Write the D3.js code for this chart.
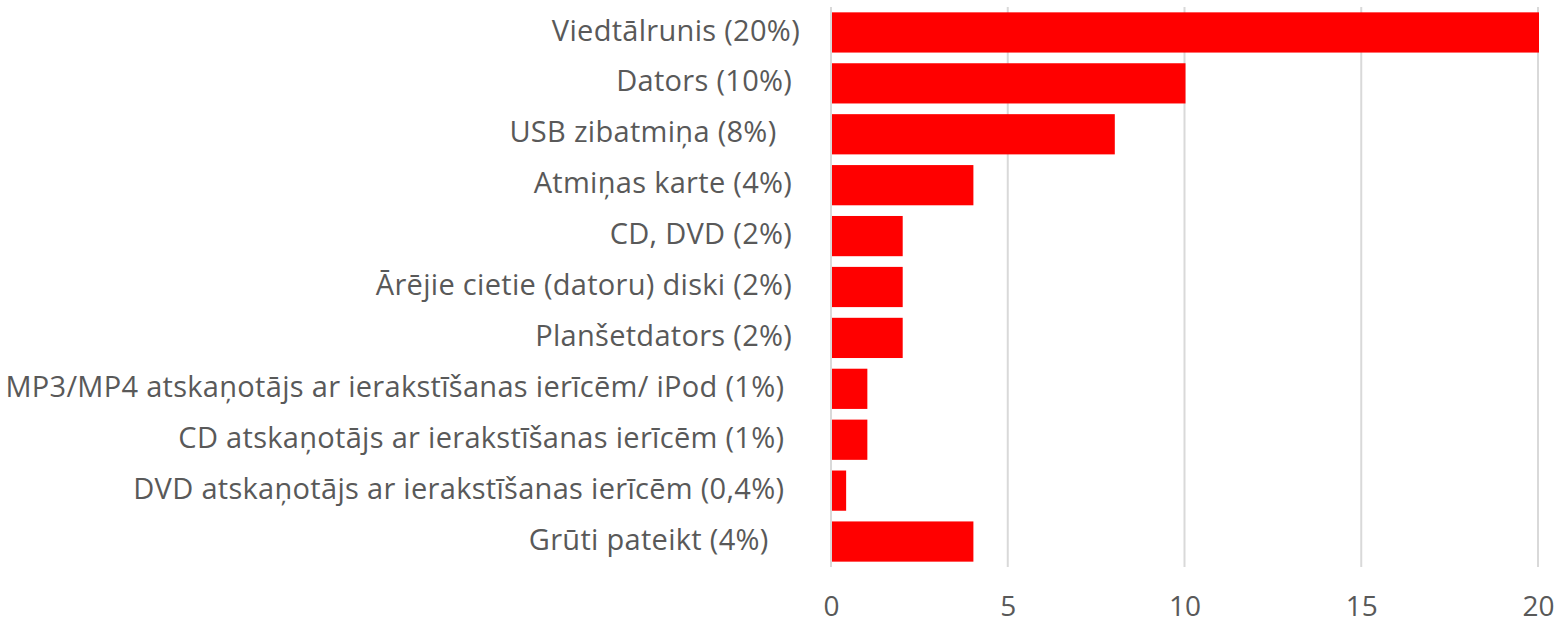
<!DOCTYPE html>
<html>
<head>
<meta charset="utf-8">
<script src="https://cdn.jsdelivr.net/npm/d3@7"></script>
<style>
  body { margin: 0; background: #fff; }
  text { font-family: "Open Sans", sans-serif; fill: #595959; white-space: pre; }
</style>
</head>
<body>
<svg id="chart" width="1560" height="620"></svg>
<script>
// categories (trailing spaces kept as in the source labels)
var categories = [
  "Viedtālrunis (20%)",
  "Dators (10%) ",
  "USB zibatmiņa (8%)   ",
  "Atmiņas karte (4%) ",
  "CD, DVD (2%) ",
  "Ārējie cietie (datoru) diski (2%) ",
  "Planšetdators (2%) ",
  "MP3/MP4 atskaņotājs ar ierakstīšanas ierīcēm/ iPod (1%)  ",
  "CD atskaņotājs ar ierakstīšanas ierīcēm (1%)  ",
  "DVD atskaņotājs ar ierakstīšanas ierīcēm (0,4%)  ",
  "Grūti pateikt (4%)    "
];
var values = [20, 10, 8, 4, 2, 2, 2, 1, 1, 0.4, 4];
var tickValues = [0, 5, 10, 15, 20];

var svg = d3.select("#chart");
var margin = {top: 7, right: 22, bottom: 53, left: 831};
var width = 1560 - margin.left - margin.right,
    height = 620 - margin.top - margin.bottom;

var g = svg.append("g")
    .attr("transform", "translate(" + margin.left + "," + margin.top + ")");

var x = d3.scaleLinear()
    .domain([0, 20])
    .range([0, width]);

var y = d3.scaleBand()
    .domain(categories)
    .range([0, height])
    .paddingInner(0.21)
    .paddingOuter(0.105);

//gridlines
g.append("g")
    .attr("class", "grid")
  .selectAll("line")
  .data(tickValues)
  .enter().append("line")
    .attr("x1", d => x(d))
    .attr("x2", d => x(d))
    .attr("y1", 0)
    .attr("y2", height)
    .attr("stroke", "#d9d9d9")
    .attr("stroke-width", 2);

//bars
g.selectAll(".bar")
  .data(values)
  .enter().append("rect")
    .attr("class", "bar")
    .attr("x", x(0) + 1)
    .attr("y", (d, i) => y(categories[i]))
    .attr("width", d => x(d) - x(0))
    .attr("height", y.bandwidth())
    .attr("fill", "#ff0000");

//x axis
var xAxis = d3.axisBottom(x)
    .tickValues(tickValues)
    .tickSize(0)
    .tickPadding(29);

var xg = g.append("g")
    .attr("transform", "translate(0," + height + ")")
    .call(xAxis);
xg.select(".domain").remove();
xg.selectAll("text")
    .style("font-size", "28px")
    .style("font-family", "\"Open Sans\", sans-serif")
    .attr("fill", "#595959");

//y axis labels
var yAxis = d3.axisLeft(y)
    .tickSize(0)
    .tickPadding(31);

var yg = g.append("g").call(yAxis);
yg.select(".domain").remove();
yg.selectAll("text")
    .style("font-size", "29px")
    .style("letter-spacing", "0.3px")
    .style("font-family", "\"Open Sans\", sans-serif")
    .attr("dy", "0.28em")
    .attr("fill", "#595959");
</script>
</body>
</html>
